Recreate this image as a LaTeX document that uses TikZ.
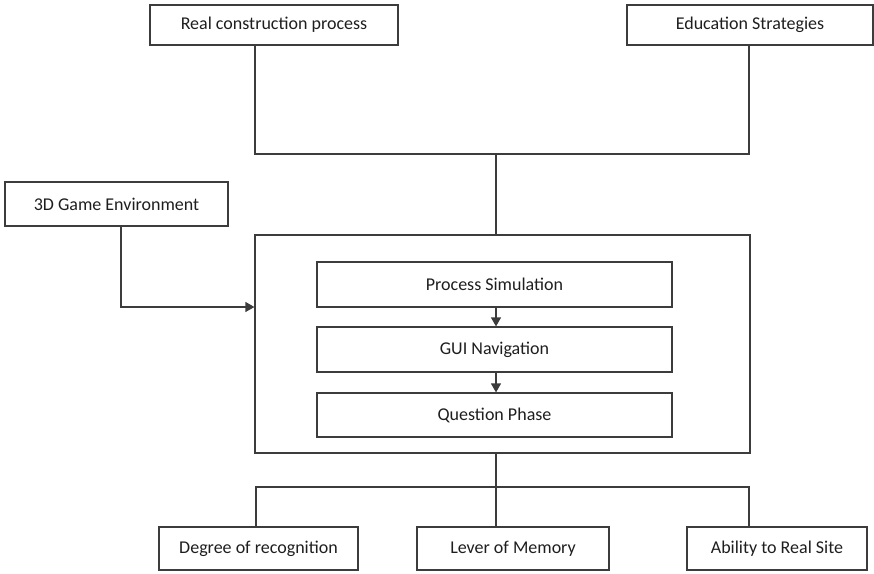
\documentclass[tikz,border=0pt]{standalone}
\usepackage{fontspec}
\setmainfont{Carlito}
\usetikzlibrary{arrows.meta}
\definecolor{linegray}{HTML}{3C3C3C}
\definecolor{txt}{HTML}{1E1E1E}
\begin{document}
\begin{tikzpicture}[x=1pt,y=-1pt,
  every node/.style={font=\fontsize{18}{21}\selectfont, text=txt},
  box/.style={draw=linegray, line width=1.2pt, rectangle, inner sep=0pt},
  link/.style={draw=linegray, line width=1.2pt},
  arrowlink/.style={link, -{Triangle[length=9pt,width=10pt]}}]
\useasboundingbox (0,0) rectangle (874,573);

% inputs
\node[box, minimum width=248pt, minimum height=40pt] (rcp) at (274,25) {Real construction process};
\node[box, minimum width=246pt, minimum height=40pt] (edu) at (750,25) {Education Strategies};
\node[box, minimum width=223pt, minimum height=44pt] (game) at (116.5,204) {3D Game Environment};

% central module
\node[box, minimum width=495pt, minimum height=218pt] (big) at (502.5,344) {};
\node[box, minimum width=355pt, minimum height=45pt] (ps) at (494.5,284.5) {Process Simulation};
\node[box, minimum width=355pt, minimum height=45pt] (gui) at (494.5,349.5) {GUI Navigation};
\node[box, minimum width=355pt, minimum height=44pt] (qp) at (494.5,415) {Question Phase};

% outcomes
\node[box, minimum width=199pt, minimum height=43pt] (deg) at (258.5,548.5) {Degree of recognition};
\node[box, minimum width=192pt, minimum height=43pt] (lev) at (513,548.5) {Lever of Memory};
\node[box, minimum width=180pt, minimum height=43pt] (abl) at (777,548.5) {Ability to Real Site};

% junction points
\coordinate (tl) at (255,154);
\coordinate (tr) at (749,154);
\coordinate (tm) at (496,154);
\coordinate (gm) at (121,307);
\coordinate (bl) at (256,487);
\coordinate (br) at (749,487);
\coordinate (bm) at (496,487);

% top merge into the module
\draw[link] (tl |- rcp.south) -- (tl) -- (tr) -- (tr |- edu.south);
\draw[link] (tm) -- (tm |- big.north);

% game environment feeds the module
\draw[arrowlink] (gm |- game.south) -- (gm) -- (gm -| big.west);

% inner sequence
\draw[arrowlink] (tm |- ps.south) -- (tm |- gui.north);
\draw[arrowlink] (tm |- gui.south) -- (tm |- qp.north);

% outcomes split
\draw[link] (bm |- big.south) -- (bm |- lev.north);
\draw[link] (bl |- deg.north) -- (bl) -- (br) -- (br |- abl.north);
\end{tikzpicture}
\end{document}
